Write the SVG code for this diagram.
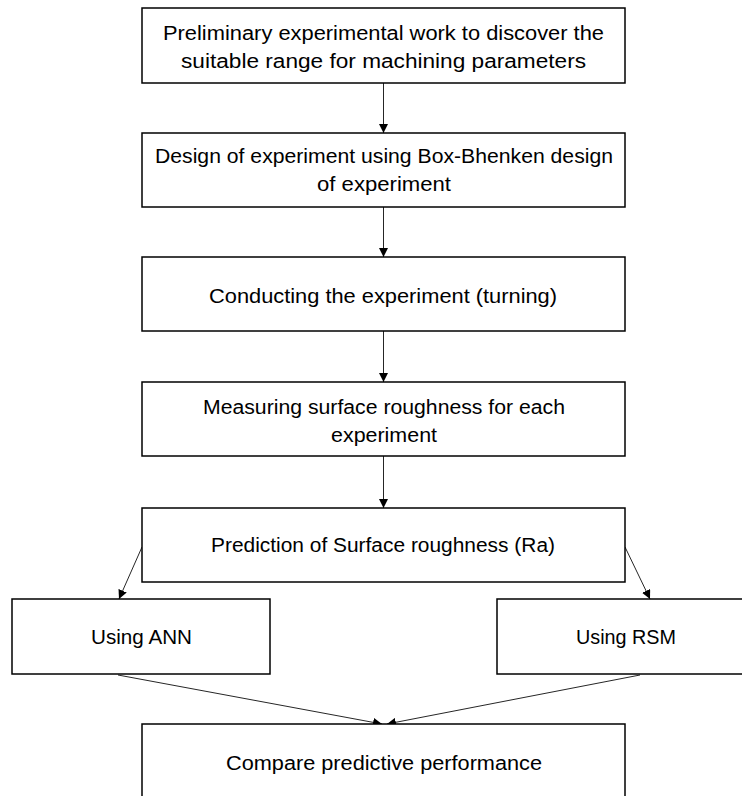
<svg xmlns="http://www.w3.org/2000/svg" width="742" height="796" viewBox="0 0 742 796">
  <style>
    .box { fill: #ffffff; stroke: #000000; stroke-width: 1.5; }
    .lbl { font-family: "Liberation Sans", Arial, sans-serif; font-size: 20px; fill: #000000; text-anchor: middle; }
    .conn { stroke: #262626; stroke-width: 1; fill: none; marker-end: url(#arrow); }
  </style>
  <defs>
    <marker id="arrow" viewBox="0 0 10 10" refX="10" refY="5" markerWidth="9" markerHeight="9" markerUnits="userSpaceOnUse" orient="auto">
      <path d="M0,0 L10,5 L0,10 Z" fill="#000000"/>
    </marker>
  </defs>
  <rect width="742" height="796" fill="#ffffff"/>

  <g id="connectors">
    <line class="conn" x1="383.5" y1="83" x2="383.5" y2="133"/>
    <line class="conn" x1="383.5" y1="207" x2="383.5" y2="257"/>
    <line class="conn" x1="383.5" y1="331" x2="383.5" y2="382"/>
    <line class="conn" x1="383.5" y1="456" x2="383.5" y2="508"/>
    <line class="conn" x1="142" y1="547" x2="119" y2="599"/>
    <line class="conn" x1="625" y1="547" x2="650" y2="599"/>
    <line class="conn" x1="118" y1="675" x2="382" y2="724"/>
    <line class="conn" x1="640" y1="675" x2="387" y2="724"/>
  </g>

  <g id="preliminary">
    <rect class="box" x="142" y="8" width="483" height="75"/>
    <text class="lbl" x="383.5" y="40" textLength="441" lengthAdjust="spacingAndGlyphs">Preliminary experimental work to discover the</text>
    <text class="lbl" x="383.5" y="68" textLength="405" lengthAdjust="spacingAndGlyphs">suitable range for machining parameters</text>
  </g>

  <g id="design">
    <rect class="box" x="142" y="133" width="483" height="74"/>
    <text class="lbl" x="384" y="163" textLength="458" lengthAdjust="spacingAndGlyphs">Design of experiment using Box-Bhenken design</text>
    <text class="lbl" x="384" y="191" textLength="134" lengthAdjust="spacingAndGlyphs">of experiment</text>
  </g>

  <g id="conducting">
    <rect class="box" x="142" y="257" width="483" height="74"/>
    <text class="lbl" x="383" y="303" textLength="348" lengthAdjust="spacingAndGlyphs">Conducting the experiment (turning)</text>
  </g>

  <g id="measuring">
    <rect class="box" x="142" y="382" width="483" height="74"/>
    <text class="lbl" x="384" y="414" textLength="362" lengthAdjust="spacingAndGlyphs">Measuring surface roughness for each</text>
    <text class="lbl" x="384" y="442" textLength="106" lengthAdjust="spacingAndGlyphs">experiment</text>
  </g>

  <g id="prediction">
    <rect class="box" x="142" y="508" width="483" height="74"/>
    <text class="lbl" x="383" y="552" textLength="344" lengthAdjust="spacingAndGlyphs">Prediction of Surface roughness (Ra)</text>
  </g>

  <g id="ann">
    <rect class="box" x="12" y="599" width="258" height="75"/>
    <text class="lbl" x="141.5" y="644" textLength="101" lengthAdjust="spacingAndGlyphs">Using ANN</text>
  </g>

  <g id="rsm">
    <rect class="box" x="497" y="599" width="260" height="75"/>
    <text class="lbl" x="626" y="644" textLength="100" lengthAdjust="spacingAndGlyphs">Using RSM</text>
  </g>

  <g id="compare">
    <rect class="box" x="142" y="724" width="483" height="90"/>
    <text class="lbl" x="384" y="770" textLength="316" lengthAdjust="spacingAndGlyphs">Compare predictive performance</text>
  </g>
</svg>
